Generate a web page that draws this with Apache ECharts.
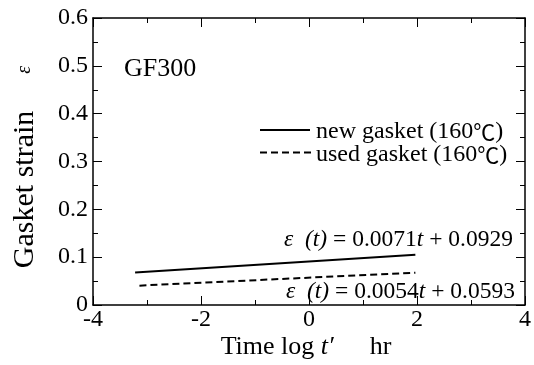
<!DOCTYPE html>
<html><head><meta charset="utf-8">
<script src="https://cdn.jsdelivr.net/npm/echarts@6/dist/echarts.min.js"></script>
<style>html,body{margin:0;padding:0;background:#fff}#c{width:534px;height:365px}</style>
</head><body><div id="c"></div>
<script>
const newX = [-3.22, 1.97];
const newY = [0.068, 0.105];
const usedX = [-3.14, 1.97];
const usedY = [0.0405, 0.0676];
const xTicks = [-4, -2, 0, 2, 4];
const yTicks = [0, 0.1, 0.2, 0.3, 0.4, 0.5, 0.6];
const seriesNames = ['new gasket (160℃)', 'used gasket (160℃)'];
const eqNew = ['0.0071', '0.0929'];
const eqUsed = ['0.0054', '0.0593'];

const F = 'Liberation Serif, Times New Roman, serif';
const chart = echarts.init(document.getElementById('c'));
const grid = {left: 93, right: 7, top: 18, bottom: 60};
function axisBase(extra){
  return Object.assign({
    type: 'value',
    axisLine: {show: true, onZero: false, lineStyle: {color: '#000', width: 1.5}},
    axisTick: {show: true, inside: true, length: 9, lineStyle: {color: '#000', width: 1}},
    minorTick: {show: true, splitNumber: 2, length: 5, lineStyle: {color: '#000', width: 1}},
    splitLine: {show: false}
  }, extra);
}
const fmtX = v => xTicks.includes(v) ? String(v) : '';
const fmtY = v => { const r = Math.round(v*10)/10; return yTicks.includes(r) ? (r === 0 ? '0' : r.toFixed(1)) : ''; };
const rich = (sz) => ({
  n: {fontFamily: F, fontSize: sz, fill: '#000', color: '#000'},
  i: {fontFamily: F, fontSize: sz, fontStyle: 'italic', fill: '#000', color: '#000'},
  c: {fontFamily: 'Noto Sans CJK JP', fontSize: sz - 2, fill: '#000', color: '#000'}
});
const legendText = s => {
  const k = s.indexOf('℃');
  return '{n|' + s.slice(0, k) + '}{c|℃}{n|' + s.slice(k + 1) + '}';
};
chart.setOption({
  animation: false,
  grid: grid,
  xAxis: [
    axisBase({min: -4, max: 4, interval: 2, position: 'bottom',
      axisLabel: {formatter: fmtX, color: '#000', fontFamily: F, fontSize: 24, margin: 3, showMinLabel: true, showMaxLabel: true}}),
    axisBase({min: -4, max: 4, interval: 2, position: 'top', axisLabel: {show: false}})
  ],
  yAxis: [
    axisBase({min: 0, max: 0.6, interval: 0.1, position: 'left',
      axisLabel: {formatter: fmtY, color: '#000', fontFamily: F, fontSize: 24, margin: 5}}),
    axisBase({min: 0, max: 0.6, interval: 0.1, position: 'right', axisLabel: {show: false}})
  ],
  series: [
    {name: seriesNames[0], type: 'line', data: newX.map((x,i)=>[x,newY[i]]), showSymbol: false, lineStyle: {color: '#000', width: 2, type: 'solid'}},
    {name: seriesNames[1], type: 'line', data: usedX.map((x,i)=>[x,usedY[i]]), showSymbol: false, lineStyle: {color: '#000', width: 2, type: [7, 4]}}
  ],
  graphic: [
    {type: 'text', x: 306, y: 347, style: {align: 'center', verticalAlign: 'middle',
      text: '{n|Time log }{i|t′}{h| }{n|hr}',
      rich: Object.assign(rich(26), {h: {fontSize: 26, width: 36}})}},
    {type: 'text', x: 25, y: 167, rotation: Math.PI/2, style: {align: 'center', verticalAlign: 'middle',
      text: '{n|Gasket strain}{g| }{e|ε}',
      rich: {n: {fontFamily: F, fontSize: 30, fill: '#000'}, g: {fontSize: 30, width: 37},
             e: {fontFamily: F, fontSize: 20, fontStyle: 'italic', fill: '#000'}}}},
    {type: 'text', x: 124, y: 69, style: {text: 'GF300', font: '26px ' + F, fill: '#000', verticalAlign: 'middle'}},
    {type: 'line', shape: {x1: 260, y1: 130, x2: 310, y2: 130}, style: {stroke: '#000', lineWidth: 2}},
    {type: 'line', shape: {x1: 260, y1: 152.5, x2: 312, y2: 152.5}, style: {stroke: '#000', lineWidth: 2, lineDash: [7, 4]}},
    {type: 'text', x: 316, y: 132, style: {verticalAlign: 'middle', rich: rich(24), text: legendText(seriesNames[0])}},
    {type: 'text', x: 316, y: 155, style: {verticalAlign: 'middle', rich: rich(24), text: legendText(seriesNames[1])}},
    {type: 'text', x: 284, y: 240, style: {verticalAlign: 'middle', rich: rich(23.5),
      text: '{i|ε  (t)}{n| = ' + eqNew[0] + '}{i|t}{n| + ' + eqNew[1] + '}'}},
    {type: 'text', x: 286, y: 292, style: {verticalAlign: 'middle', rich: rich(23.5),
      text: '{i|ε  (t)}{n| = ' + eqUsed[0] + '}{i|t}{n| + ' + eqUsed[1] + '}'}}
  ]
});
</script></body></html>
